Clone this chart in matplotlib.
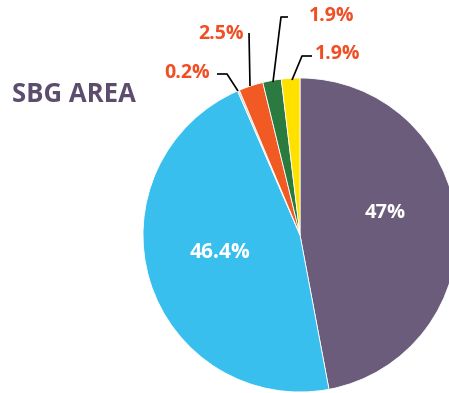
import matplotlib.pyplot as plt

# share of each group, clockwise from 12 o'clock
labels = ['47%', '46.4%', '0.2%', '2.5%', '1.9%', '1.9%']
values = [47, 46.4, 0.2, 2.5, 1.9, 1.9]
colors = ['#6b5c7c', '#38bfee', '#d0d0d0', '#f15a22', '#2b7a3f', '#ffe100']

W, H = 449, 393


def up(y):
    # pixel row (top-down) -> axis y (bottom-up)
    return H - y


fig = plt.figure(figsize=(W / 100, H / 100), dpi=100)
ax = fig.add_axes([0, 0, 1, 1])

ax.pie(values, colors=colors, startangle=90, counterclock=False,
       center=(300, up(235)), radius=157, frame=True,
       wedgeprops=dict(linewidth=0.6, edgecolor='white'))
ax.set_xlim(0, W)
ax.set_ylim(0, H)
ax.set_aspect('auto')
ax.axis('off')

font = 'Open Sans'
label_col = '#f04e23'

# labels inside the two big slices
ax.text(385, up(213), labels[0], color='white', fontsize=14.5, fontweight='bold',
        family=font, ha='center', va='center')
ax.text(220, up(253), labels[1], color='white', fontsize=15, fontweight='bold',
        family=font, ha='center', va='center')

# small slices: label text + leader line
small = [
    (labels[2], (187, 73), [(217, 74), (227, 74), (238, 91)]),
    (labels[3], (221, 34), [(249, 33), (250, 86)]),
    (labels[4], (332, 16), [(288, 17), (281, 17), (273, 82)]),
    (labels[5], (338, 54), [(312, 56), (302, 56), (292, 80)]),
]
for txt, (tx, ty), pts in small:
    ax.text(tx, up(ty), txt, color=label_col, fontsize=14, fontweight='bold',
            family=font, ha='center', va='center')
    ax.plot([p[0] for p in pts], [up(p[1]) for p in pts], color='black', lw=1.2,
            solid_capstyle='butt')

ax.text(12, up(95), 'SBG AREA', color='#5c4d6e', fontsize=18.5, fontweight='bold',
        family=font, ha='left', va='center')

fig.savefig('out.png', dpi=100)
